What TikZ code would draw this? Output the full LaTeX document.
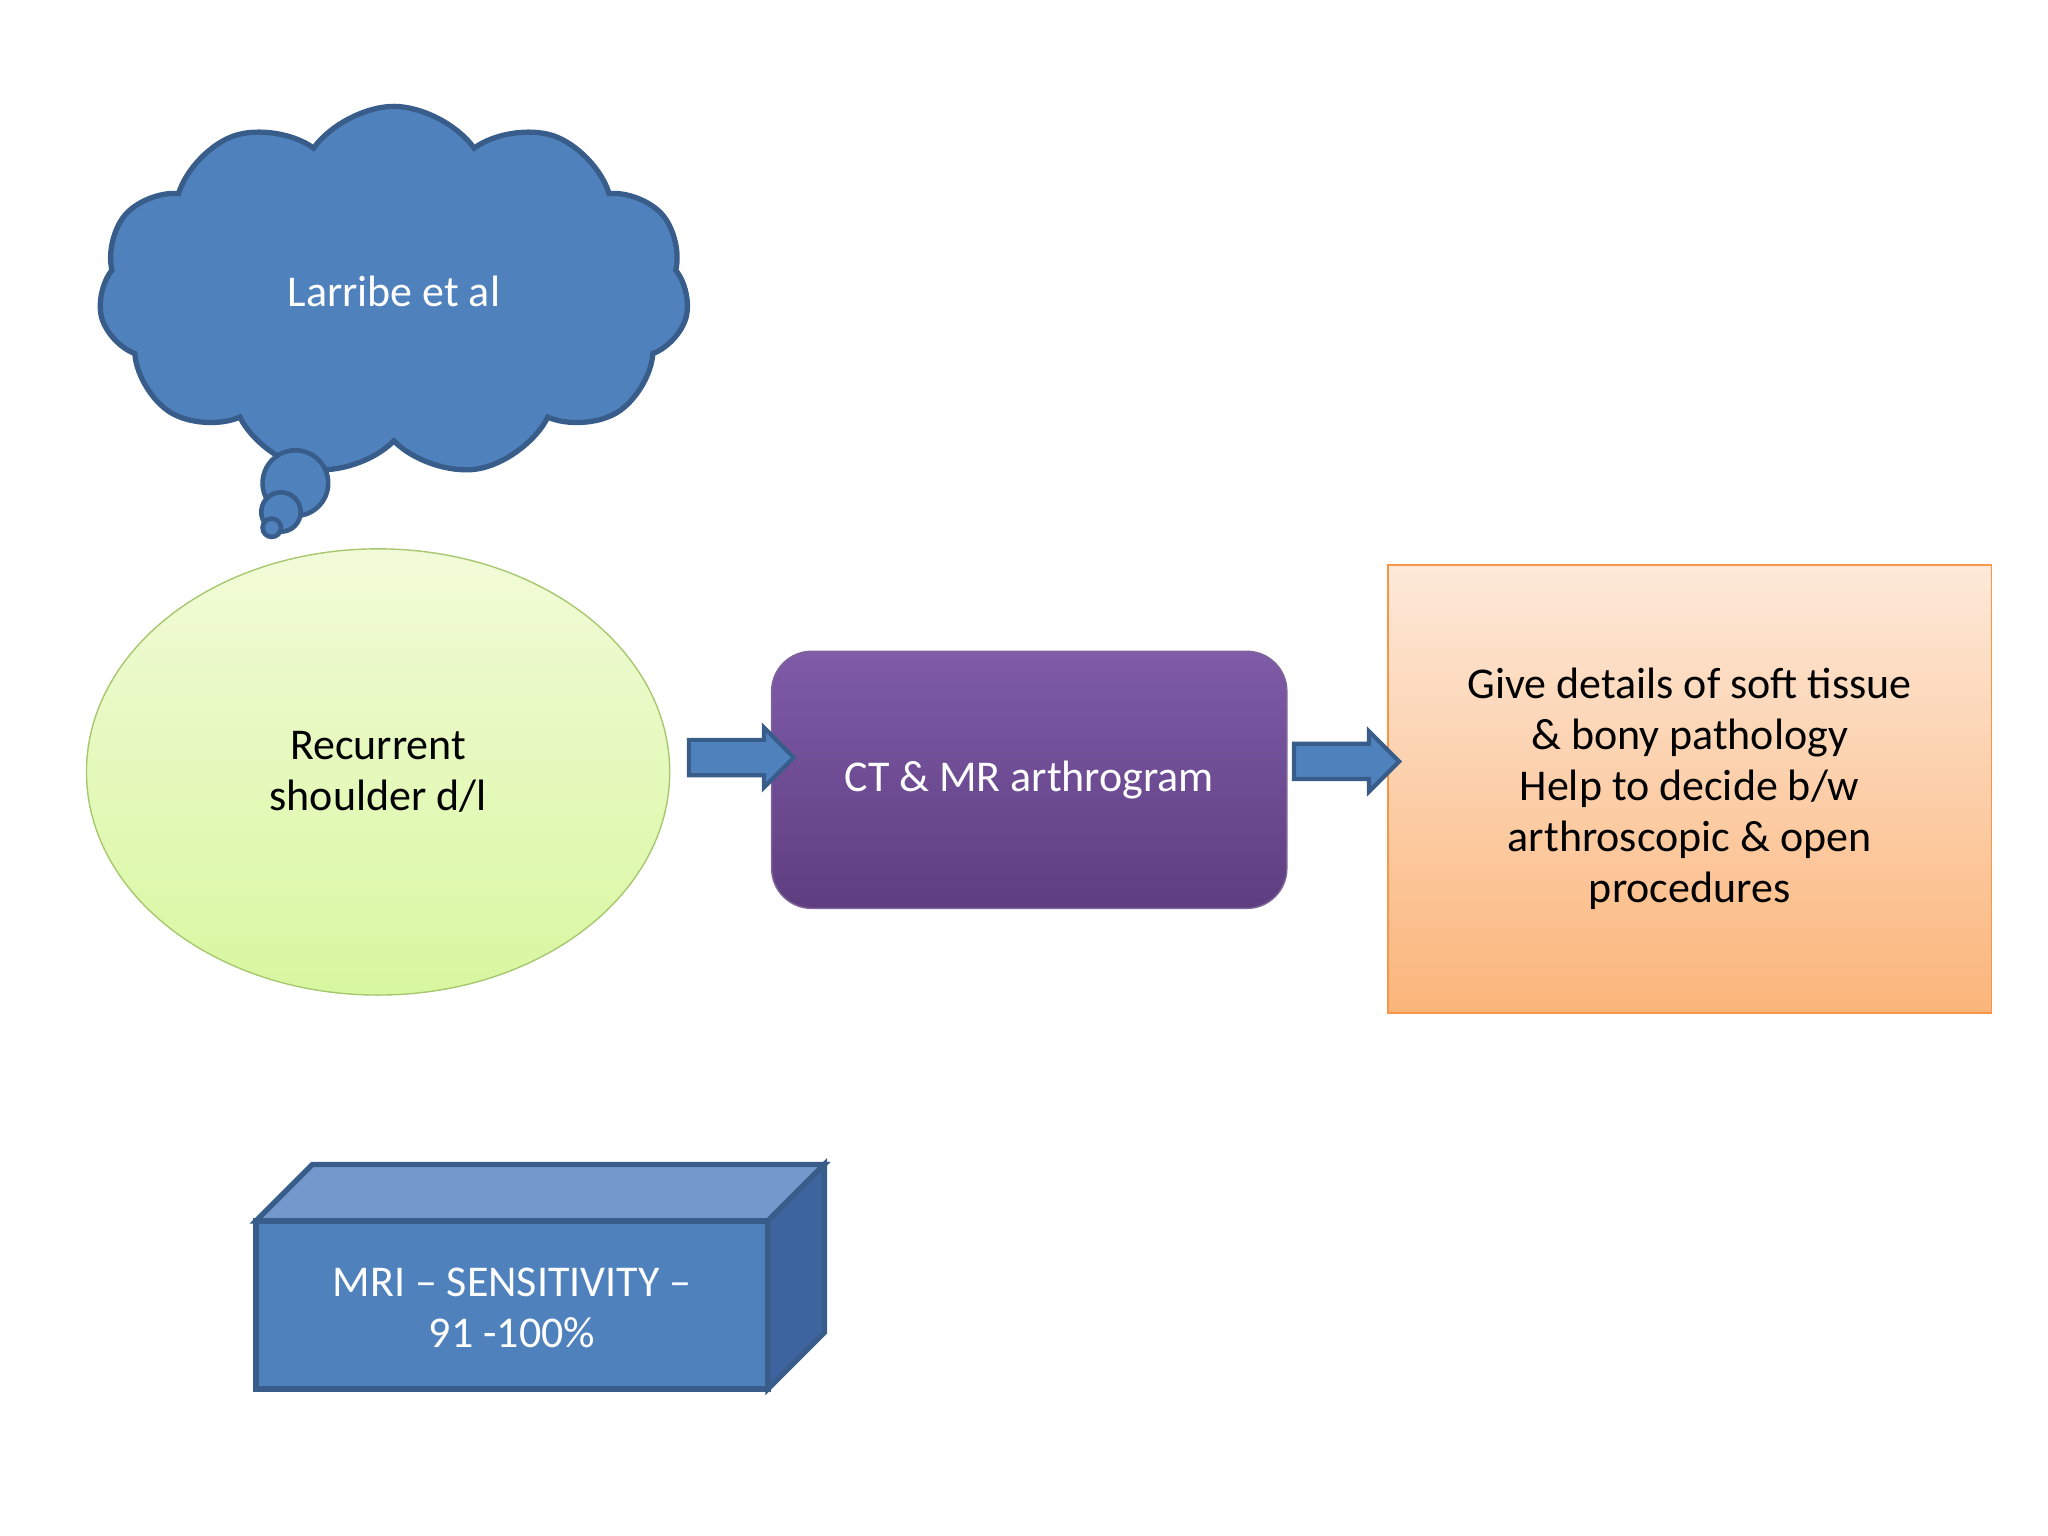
\documentclass[tikz,border=0pt]{standalone}
\usepackage{fontspec}
\setmainfont{Carlito}
\usetikzlibrary{shapes.symbols,shapes.arrows,shapes.geometric}
\definecolor{blueF}{HTML}{4F81BD}
\definecolor{blueD}{HTML}{385D8A}
\definecolor{blueT}{HTML}{7399CC}
\definecolor{blueS}{HTML}{3E64A0}
\definecolor{purpT}{HTML}{7F5BA8}
\definecolor{purpB}{HTML}{5E3E80}
\definecolor{oranT}{HTML}{FDE9D9}
\definecolor{oranB}{HTML}{FBB57A}
\definecolor{oranD}{HTML}{F79646}
\definecolor{greenT}{HTML}{F2FBD8}
\definecolor{greenB}{HTML}{D8F7A0}
\definecolor{greenD}{HTML}{A8C870}
\tikzset{
  txt/.style={font=\fontsize{12.5}{14.5}\selectfont, align=center},
  blockarrow/.style={single arrow, draw=blueD, fill=blueF, line width=1.2pt,
    minimum height=1.05cm, minimum width=0.6cm, single arrow head extend=0.12cm,
    inner sep=0.1cm, shape border uses incircle}
}
\begin{document}
\begin{tikzpicture}[x=0.013128cm, y=-0.013128cm]
\useasboundingbox (0,0) rectangle (1560,1170);
% cloud and bubbles
\node[cloud, cloud puffs=11, cloud puff arc=110, draw=blueD, fill=blueF, line width=1.5pt,
  minimum width=5.9cm, minimum height=3.7cm, txt, text=white] (cloud) at (300,222) {Larribe et al};
\draw[draw=blueD, fill=blueF, line width=1.3pt] (225,368) circle (25);
\draw[draw=blueD, fill=blueF, line width=1.3pt] (214,390) circle (15);
\draw[draw=blueD, fill=blueF, line width=1.3pt] (207,402) circle (7);
% main row
\node[ellipse, draw=greenD, top color=greenT, bottom color=greenB, minimum width=5.83cm,
  minimum height=4.46cm, txt] (rec) at (288,588) {Recurrent\\shoulder d/l};
\node[rounded corners=0.4cm, top color=purpT, bottom color=purpB, draw=purpB!80,
  minimum width=5.15cm, minimum height=2.57cm, txt, text=white] (ct) at (784,594) {CT \& MR arthrogram};
\node[draw=oranD, top color=oranT, bottom color=oranB, minimum width=6.03cm,
  minimum height=4.48cm, txt] (det) at (1287,601)
  {Give details of soft tissue\\\& bony pathology\\Help to decide b/w\\arthroscopic \& open\\procedures};
\node[blockarrow] (a1) at (558,577) {};
\node[blockarrow] (a2) at (1019,580) {};
% cuboid
\coordinate (fl) at (195,1058);
\coordinate (fr) at (585,1058);
\coordinate (tr) at (585,930);
\coordinate (tl) at (195,930);
\filldraw[draw=blueD, fill=blueT, line width=1.5pt] (tl) -- ++(43,-43) -- ++(390,0) -- (tr) -- cycle;
\filldraw[draw=blueD, fill=blueS, line width=1.5pt] (tr) -- ++(43,-43) -- ++(0,128) -- (fr) -- cycle;
\filldraw[draw=blueD, fill=blueF, line width=1.5pt] (fl) rectangle (tr);
\node[txt, text=white] (mri) at (390,996) {MRI -- SENSITIVITY --\\91 -100\%};
\end{tikzpicture}
\end{document}
